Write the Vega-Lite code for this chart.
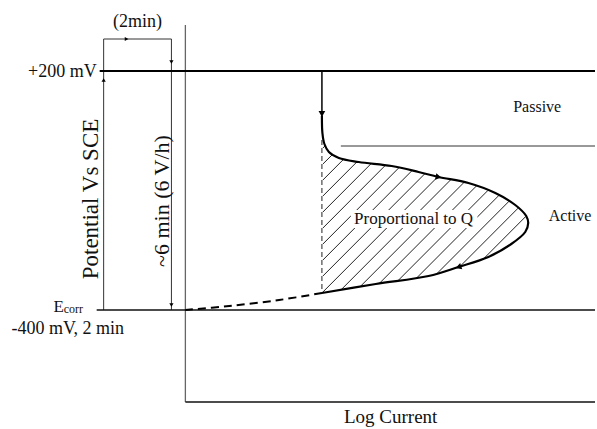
{
  "$schema": "https://vega.github.io/schema/vega-lite/v6.json",
  "width": 597,
  "height": 429,
  "autosize": {"type": "fit", "contains": "padding"},
  "padding": 0,
  "background": "white",
  "config": {"view": {"stroke": null}, "axis": {"disable": true}, "text": {"font": "Liberation Serif", "color": "#111"}, "mark": {"font": "Liberation Serif"}},
  "datasets": {
    "hatch": [
      {"x": 324, "y": 148, "x2": 326.4, "y2": 145.6},
      {"x": 324, "y": 164, "x2": 333.8, "y2": 154.3},
      {"x": 324, "y": 180, "x2": 345, "y2": 159},
      {"x": 324, "y": 196, "x2": 358.3, "y2": 161.7},
      {"x": 324, "y": 212, "x2": 372.5, "y2": 163.5},
      {"x": 324, "y": 228, "x2": 386.8, "y2": 165.2},
      {"x": 324, "y": 244, "x2": 400.4, "y2": 167.6},
      {"x": 324, "y": 260, "x2": 413.5, "y2": 170.5},
      {"x": 324, "y": 276, "x2": 426.4, "y2": 173.6},
      {"x": 324, "y": 292, "x2": 439.2, "y2": 176.8},
      {"x": 342.1, "y": 289.9, "x2": 452.5, "y2": 179.5},
      {"x": 361.3, "y": 286.7, "x2": 465.8, "y2": 182.2},
      {"x": 380.5, "y": 283.5, "x2": 478.0, "y2": 186.0},
      {"x": 399.4, "y": 280.6, "x2": 489.7, "y2": 190.3},
      {"x": 418.2, "y": 277.8, "x2": 500.8, "y2": 195.2},
      {"x": 438.6, "y": 273.4, "x2": 510.8, "y2": 201.2},
      {"x": 461.5, "y": 266.5, "x2": 519.9, "y2": 208.1},
      {"x": 485.5, "y": 258.5, "x2": 527.5, "y2": 216.5}
    ],
    "thin": [
      {"x": 104, "y": 39, "x2": 104, "y2": 310},
      {"x": 104, "y": 39, "x2": 172, "y2": 39},
      {"x": 172, "y": 39, "x2": 172, "y2": 310},
      {"x": 342, "y": 146, "x2": 597, "y2": 146}
    ],
    "frame": [
      {"x": 186, "y": 25, "x2": 186, "y2": 402}
    ],
    "medium": [
      {"x": 186, "y": 402, "x2": 597, "y2": 402},
      {"x": 97, "y": 310, "x2": 597, "y2": 310},
      {"x": 323, "y": 71, "x2": 323, "y2": 118}
    ],
    "thick": [
      {"x": 100, "y": 71, "x2": 597, "y2": 71}
    ],
    "curve": [
      {"k": 0, "x": 323, "y": 116},
      {"k": 1, "x": 323.5, "y": 133},
      {"k": 2, "x": 325.5, "y": 144},
      {"k": 3, "x": 330, "y": 152},
      {"k": 4, "x": 340, "y": 158},
      {"k": 5, "x": 360, "y": 162},
      {"k": 6, "x": 393, "y": 166},
      {"k": 7, "x": 420, "y": 172},
      {"k": 8, "x": 440, "y": 177},
      {"k": 9, "x": 470, "y": 183},
      {"k": 10, "x": 497, "y": 193},
      {"k": 11, "x": 517, "y": 205},
      {"k": 12, "x": 528, "y": 216},
      {"k": 13, "x": 530, "y": 223},
      {"k": 14, "x": 527, "y": 232},
      {"k": 15, "x": 513, "y": 244},
      {"k": 16, "x": 490, "y": 257},
      {"k": 17, "x": 460, "y": 267},
      {"k": 18, "x": 430, "y": 276},
      {"k": 19, "x": 377, "y": 284},
      {"k": 20, "x": 323, "y": 293}
    ],
    "dashed": [
      {"k": 0, "x": 323, "y": 293},
      {"k": 1, "x": 280, "y": 300},
      {"k": 2, "x": 230, "y": 306},
      {"k": 3, "x": 186, "y": 310}
    ],
    "leftEdge": [
      {"x": 323, "y": 140, "x2": 323, "y2": 293}
    ],
    "arrowsSmall": [
      {"x": 127, "y": 39, "heading": 90},
      {"x": 104, "y": 80, "heading": 0},
      {"x": 172, "y": 62, "heading": 180},
      {"x": 172, "y": 305, "heading": 180}
    ],
    "arrowsBig": [
      {"x": 323, "y": 114, "heading": 180},
      {"x": 440, "y": 177, "heading": 101},
      {"x": 460, "y": 267, "heading": 252}
    ]
  },
  "encoding": {
    "x": {"field": "x", "type": "quantitative", "scale": {"domain": [0, 597], "nice": false, "zero": false}},
    "y": {"field": "y", "type": "quantitative", "scale": {"domain": [0, 429], "nice": false, "zero": false, "reverse": true}}
  },
  "layer": [
    {
      "data": {"name": "hatch"},
      "mark": {"type": "rule", "stroke": "#222", "strokeWidth": 1},
      "encoding": {"x2": {"field": "x2"}, "y2": {"field": "y2"}}
    },
    {
      "data": {"values": [{"x": 352, "y": 210, "x2": 479, "y2": 228}]},
      "mark": {"type": "rect", "fill": "white"},
      "encoding": {"x2": {"field": "x2"}, "y2": {"field": "y2"}}
    },
    {
      "data": {"name": "thin"},
      "mark": {"type": "rule", "stroke": "#333", "strokeWidth": 1},
      "encoding": {"x2": {"field": "x2"}, "y2": {"field": "y2"}}
    },
    {
      "data": {"name": "frame"},
      "mark": {"type": "rule", "stroke": "#666", "strokeWidth": 1.3},
      "encoding": {"x2": {"field": "x2"}, "y2": {"field": "y2"}}
    },
    {
      "data": {"name": "medium"},
      "mark": {"type": "rule", "stroke": "#111", "strokeWidth": 1.6},
      "encoding": {"x2": {"field": "x2"}, "y2": {"field": "y2"}}
    },
    {
      "data": {"name": "thick"},
      "mark": {"type": "rule", "stroke": "#000", "strokeWidth": 2.2},
      "encoding": {"x2": {"field": "x2"}, "y2": {"field": "y2"}}
    },
    {
      "data": {"name": "leftEdge"},
      "mark": {"type": "rule", "stroke": "#222", "strokeWidth": 1, "strokeDash": [5, 3]},
      "encoding": {"x2": {"field": "x2"}, "y2": {"field": "y2"}}
    },
    {
      "data": {"name": "curve"},
      "mark": {"type": "line", "stroke": "#000", "strokeWidth": 2.2, "interpolate": "catmull-rom"},
      "encoding": {"order": {"field": "k", "type": "quantitative"}}
    },
    {
      "data": {"name": "dashed"},
      "mark": {"type": "line", "stroke": "#000", "strokeWidth": 2, "strokeDash": [8, 5], "interpolate": "catmull-rom"},
      "encoding": {"order": {"field": "k", "type": "quantitative"}}
    },
    {
      "data": {"name": "arrowsSmall"},
      "mark": {"type": "point", "shape": "triangle-up", "filled": true, "color": "#000", "size": 18, "opacity": 1},
      "encoding": {"angle": {"field": "heading", "type": "quantitative", "scale": null}}
    },
    {
      "data": {"name": "arrowsBig"},
      "mark": {"type": "point", "shape": "triangle-up", "filled": true, "color": "#000", "size": 45, "opacity": 1},
      "encoding": {"angle": {"field": "heading", "type": "quantitative", "scale": null}}
    },
    {
      "data": {"values": [{"label": "+200 mV", "x": 97, "y": 72}]},
      "mark": {"type": "text", "font": "Liberation Serif", "align": "right", "baseline": "middle", "fontSize": 18},
      "encoding": {"text": {"field": "label"}}
    },
    {
      "data": {"values": [{"label": "(2min)", "x": 138, "y": 22}, {"label": "-400 mV, 2 min", "x": 68, "y": 329}]},
      "mark": {"type": "text", "font": "Liberation Serif", "align": "center", "baseline": "middle", "fontSize": 18},
      "encoding": {"text": {"field": "label"}}
    },
    {
      "data": {"values": [{"label": "E", "x": 64, "y": 312}]},
      "mark": {"type": "text", "font": "Liberation Serif", "align": "right", "baseline": "alphabetic", "fontSize": 17},
      "encoding": {"text": {"field": "label"}}
    },
    {
      "data": {"values": [{"label": "corr", "x": 64, "y": 313}]},
      "mark": {"type": "text", "font": "Liberation Serif", "align": "left", "baseline": "alphabetic", "fontSize": 12},
      "encoding": {"text": {"field": "label"}}
    },
    {
      "data": {"values": [{"label": "Potential Vs SCE", "x": 91, "y": 199}]},
      "mark": {"type": "text", "font": "Liberation Serif", "align": "center", "baseline": "middle", "fontSize": 23, "angle": 270},
      "encoding": {"text": {"field": "label"}}
    },
    {
      "data": {"values": [{"label": "~6 min (6 V/h)", "x": 163, "y": 201}]},
      "mark": {"type": "text", "font": "Liberation Serif", "align": "center", "baseline": "middle", "fontSize": 22, "angle": 270},
      "encoding": {"text": {"field": "label"}}
    },
    {
      "data": {"values": [{"label": "Passive", "x": 539, "y": 107}, {"label": "Active", "x": 572, "y": 216}]},
      "mark": {"type": "text", "font": "Liberation Serif", "align": "center", "baseline": "middle", "fontSize": 16},
      "encoding": {"text": {"field": "label"}}
    },
    {
      "data": {"values": [{"label": "Proportional to Q", "x": 415, "y": 219}]},
      "mark": {"type": "text", "font": "Liberation Serif", "align": "center", "baseline": "middle", "fontSize": 17},
      "encoding": {"text": {"field": "label"}}
    },
    {
      "data": {"values": [{"label": "Log Current", "x": 392, "y": 417}]},
      "mark": {"type": "text", "font": "Liberation Serif", "align": "center", "baseline": "middle", "fontSize": 19},
      "encoding": {"text": {"field": "label"}}
    }
  ]
}
